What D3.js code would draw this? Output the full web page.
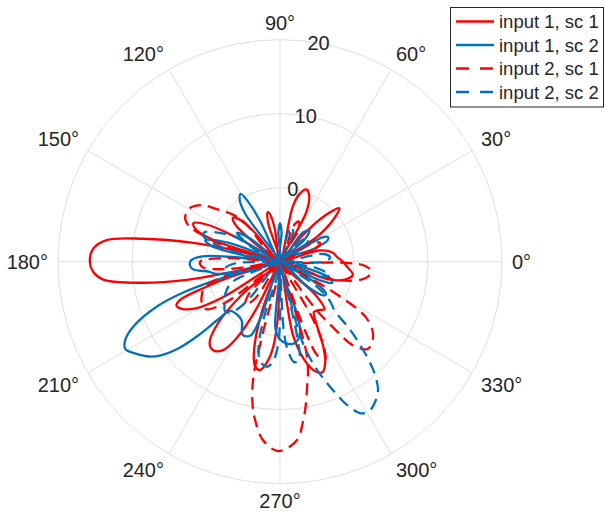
<!DOCTYPE html>
<html>
<head>
<meta charset="utf-8">
<script src="https://cdn.jsdelivr.net/npm/d3@7"></script>
<style>
  html, body { margin: 0; padding: 0; background: #ffffff; }
  svg { display: block; }
  text { font-family: "Liberation Sans", Arial, Helvetica, sans-serif; fill: #262626; }
</style>
</head>
<body>
<svg id="chart" width="605" height="517"></svg>
<script>
// ---------------- data (angle in degrees, value in dB) ----------------
const seriesNames = ["input 1, sc 1", "input 1, sc 2", "input 2, sc 1", "input 2, sc 2"];

const input1sc1 = [
  [0,-1.5],[5,-2.3],[10,-2.8],[16,-4.5],[20,-10],
  [30,-10],[34,-4],[38,-1],[42,0.8],[46,-1.5],[50,-6],[54,-10],
  [62,-2.5],[66,-0.3],[70,0.4],[74,-0.5],[77,-2.4],[82,-10],
  [96,-10],[99,-5.5],[102,-3.4],[104,-3.1],[107,-4.5],[110,-10],
  [128,-10],[131,-4.5],[134,-2],[137,-1.3],[140,-2],[144,-6],[147,-10],
  [151,-3],[153,1],[156,2.8],[159,2.2],[162,-0.5],[165,-10],
  [166,-3.4],[167.7,2],[170.5,8.8],[172.8,13.5],[176,15.3],[180,15.7],[183,15.3],[185.8,14],[188.7,8.8],[191,2.8],[192,-2.7],[193.5,-10],
  [197,-3],[199,1],[201,4.5],[203,5.2],[206,4.6],[209,3],[212,-1],[215,-10],
  [221,-3],[225,2],[229,4.5],[232.7,5],[237,4.3],[240.5,1.8],[243.4,-3],[246,-10],
  [250,-3],[253.5,2.3],[256.5,4.5],[259.5,4.9],[263,3.5],[265.5,1.5],[268,-3],[271,-10],
  [276,-10],[280,0],[284,3.7],[288,5.6],[291,6],[294,5],[297,2.9],[300,0],[304,-1.8],[309,-1.6],[313,-1.2],[317,-3.5],[322,-10],
  [336,-10],[340,-3],[345,-0.8],[350,0],[355,-0.8]
];

const input1sc2 = [
  [18,-10],[21,-5],[24,-3],[27,-2.7],[30,-3.5],[33,-10],
  [38,-10],[42,-5.5],[47,-4.2],[52,-5],[56,-10],
  [84,-10],[87,-6],[90,-4.8],[93,-6],[96,-10],
  [112,-10],[116,-4],[118,-0.8],[120,0.6],[123,0],[126,-2],[129,-10],
  [139,-10],[142,-5],[146,-3],[150,-4.5],[153,-10],
  [156,-10],[159,-4],[162,-0.5],[164,0.5],[167,-0.5],[170,-5],[172,-10],
  [174.5,-3],[176,0.5],[179,2],[182,2.2],[185,1.8],[188,-0.3],[191,-1.3],[194,-6],
  [196,-1],[197.7,3.8],[200,7.7],[203.9,11.7],[207,13.5],[209.5,14],[212.5,13.1],[216,11.8],[218,10.6],[220.5,8],[222,5],[223,1.5],[224.4,-0.5],
  [231,-0.8],[237,-0.5],[243,1.1],[248,0.8],[251,-2],[253,-10],
  [263,-10],[266,-1],[270,0.5],[275,1.1],[280,1.2],[285,0.3],[288,-2],[291,-10],
  [314,-10],[318,-5],[322,-2.6],[325,-2.4],[329,-4],[332,-10],
  [335,-4],[338,-2.4],[342,-3],[346,-6],[350,-10]
];

const input2sc1 = [
  [2,-10],
  [15,-10],[20,-5],[25,-4],[30,-5],[35,-10],
  [55,-10],[60,-5],[65,-4],[70,-5],[75,-10],
  [128,-10],[132,-3],[135,-1],[140,1],[144,3],[148,4],[152,4.3],[156,4],[159,3],[162,0],[165,-3],[168,-10],
  [172,-10],[176,-3],[180,0.8],[184,0.5],[188,-3],[191,-10],
  [195,-2],[199,0.8],[204,1.6],[209,2],[213,1.8],[217,-1],[220,-10],
  [222,-10],[226,-4],[231,-2.5],[236,-4],[240,-10],
  [255,-10],[256.5,0],[257,6],[259,9.5],[261,11.6],[264.5,14.2],[269.5,15.6],[275.5,14.2],[278,12],[280,9.9],[282.5,7],[284.5,5.1],[286.5,2],[288,-10],
  [290,0],[292,3.8],[295,4.5],[298,2],[300,-1.5],[303,-10],
  [305,-10],[307,-2],[309,1.5],[311,4.9],[315,6.7],[319,6.5],[322.6,5.8],[326,4.5],[328,3],[331,-3],[334,-10],
  [337,-10],[341,-3],[346,0.5],[350,2],[354,2.4],[357,1.6],[359,-1]
];

const input2sc2 = [
  [0,-4],[5,-3.2],[10,-4],[15,-10],
  [30,-10],[35,-5.5],[40,-5],[45,-6],[50,-10],
  [60,-10],[65,-6],[70,-5],[75,-6],[80,-10],
  [148,-10],[151,-3],[155,-0.7],[159,1],[162,0.8],[165,-1],[168,-4],[171,-10],
  [178,-10],[182,-4],[187,-2.5],[192,-2.3],[196,-4],[199,-10],
  [203,-3],[210,-1.5],[216,-0.8],[222,0],[226,-0.5],[230,-3],[234,-10],
  [252,-10],[254,-2],[256,2],[259,3.8],[263,4.3],[266,3.5],[268.5,1.5],[270,-2],[271,-10],
  [273,-1],[275,2],[278,3.7],[281,3.5],[283,0],[284,-10],
  [285,-0.5],[286,2],[288,4.5],[290,6.5],[292.8,9.2],[295,11.3],[298,13.2],[301,13.5],[304.5,12.8],[307.4,11.8],[310,10],[312,8],[314,5.5],[316,3],[318,0],[322,-1.5],[326,-4],[330,-10],
  [335,-10],[340,-4],[345,-3],[350,-5],[355,-10]
];

const angleTicks = [0, 30, 60, 90, 120, 150, 180, 210, 240, 270, 300, 330];
const radialTicks = [0, 10, 20];
const radialLimits = [-10, 20];

// ---------------- drawing ----------------
const svg = d3.select("#chart");
const cx = 280, cy = 261.7, R = 222;
const rScale = d3.scaleLinear().domain(radialLimits).range([0, R]);
const toRad = d => d * Math.PI / 180;

const g = svg.append("g").attr("transform", `translate(${cx},${cy})`);

const gridColor = "#dfdfdf";
g.selectAll("line.spoke").data(angleTicks).enter().append("line")
  .attr("x1", 0).attr("y1", 0)
  .attr("x2", d => R * Math.cos(toRad(d)))
  .attr("y2", d => -R * Math.sin(toRad(d)))
  .attr("stroke", gridColor).attr("stroke-width", 1);
g.selectAll("circle.ring").data(radialTicks).enter().append("circle")
  .attr("r", d => rScale(d))
  .attr("fill", "none").attr("stroke", gridColor).attr("stroke-width", 1);

function clean(arr) {
  const out = [];
  arr.forEach(p => {
    const last = out[out.length - 1];
    if (p[1] <= radialLimits[0] && last && last[1] <= radialLimits[0]) return;
    out.push(p);
  });
  if (out.length > 1 && out[0][1] <= radialLimits[0] && out[out.length - 1][1] <= radialLimits[0]) out.pop();
  return out;
}

const radial = d3.lineRadial()
  .angle(d => toRad(90 - d[0]))
  .radius(d => rScale(Math.max(radialLimits[0], d[1])))
  .curve(d3.curveCatmullRomClosed.alpha(0.5));

const red = "#ff0000", blue = "#0072bd";
const series = [
  { data: input1sc1, color: red, dash: null },
  { data: input1sc2, color: blue, dash: null },
  { data: input2sc1, color: red, dash: "12,7" },
  { data: input2sc2, color: blue, dash: "12,7" }
];

series.forEach(s => {
  g.append("path")
    .attr("d", radial(clean(s.data)))
    .attr("fill", "none")
    .attr("stroke", s.color)
    .attr("stroke-width", 2.3)
    .attr("stroke-linejoin", "round")
    .attr("stroke-dasharray", s.dash);
});

const labR = 232, fs = 20, capH = fs * 0.72;
angleTicks.forEach(a => {
  const c = Math.cos(toRad(a)), sn = Math.sin(toRad(a));
  const x = labR * c, y = -labR * sn;
  const anchor = c > 0.1 ? "start" : (c < -0.1 ? "end" : "middle");
  let by;
  if (sn > 0.1) by = y;
  else if (sn < -0.1) by = y + capH;
  else by = y + capH / 2;
  g.append("text").attr("x", x).attr("y", by)
    .attr("text-anchor", anchor)
    .attr("font-size", fs)
    .text(a + "°");
});

radialTicks.forEach(v => {
  const rr = rScale(v);
  g.append("text")
    .attr("x", rr * Math.cos(toRad(80)))
    .attr("y", -rr * Math.sin(toRad(80)) + capH / 2)
    .attr("text-anchor", "middle")
    .attr("font-size", fs)
    .text(v);
});

const leg = svg.append("g");
leg.append("rect").attr("x", 450.5).attr("y", 7.5).attr("width", 153).attr("height", 99.5)
  .attr("fill", "#ffffff").attr("stroke", "#262626").attr("stroke-width", 1);
const legY = [21.5, 45, 68.5, 92];
series.forEach((s, i) => {
  leg.append("line").attr("x1", 456).attr("x2", 494).attr("y1", legY[i]).attr("y2", legY[i])
    .attr("stroke", s.color).attr("stroke-width", 2.3)
    .attr("stroke-dasharray", s.dash ? "13,11" : null);
  leg.append("text").attr("x", 499).attr("y", legY[i] + 6.5)
    .attr("font-size", 18.5).text(seriesNames[i]);
});
</script>
</body>
</html>
